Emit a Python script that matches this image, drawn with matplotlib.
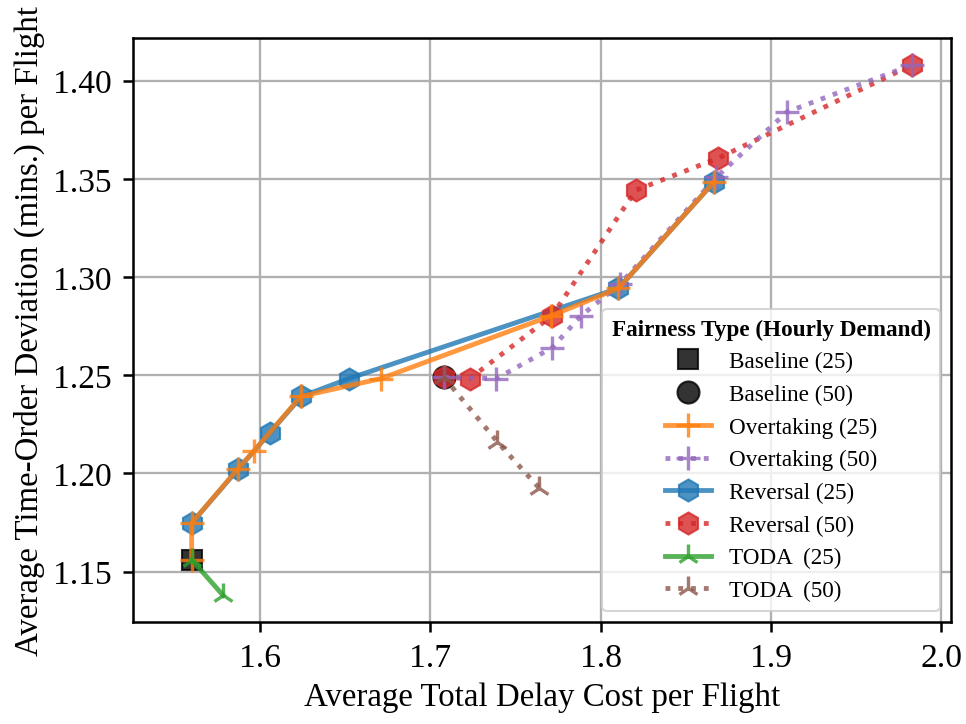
import matplotlib
matplotlib.use('Agg')
import matplotlib.pyplot as plt

plt.rcParams['font.family'] = ['Liberation Serif', 'DejaVu Serif']
plt.rcParams['mathtext.fontset'] = 'stix'

# baseline points
base25_x = [1.560]
base25_y = [1.156]
base50_x = [1.708]
base50_y = [1.249]

# overtaking
over25_x = [1.560, 1.560, 1.587, 1.5965, 1.624, 1.671, 1.771, 1.8105, 1.8667]
over25_y = [1.156, 1.1747, 1.2022, 1.2113, 1.2392, 1.2483, 1.2803, 1.2943, 1.3486]
over50_x = [1.708, 1.7388, 1.7715, 1.7885, 1.8115, 1.868, 1.9095, 1.983]
over50_y = [1.249, 1.2483, 1.264, 1.2803, 1.2965, 1.351, 1.3842, 1.4082]

# reversal
rev25_x = [1.560, 1.5873, 1.6058, 1.6244, 1.6522, 1.8105, 1.8667]
rev25_y = [1.1747, 1.2022, 1.2206, 1.2392, 1.2483, 1.2943, 1.3486]
rev50_x = [1.708, 1.7232, 1.7715, 1.8207, 1.869, 1.983]
rev50_y = [1.249, 1.2483, 1.2803, 1.3443, 1.3606, 1.4082]

# TODA
toda25_x = [1.560, 1.5785]
toda25_y = [1.156, 1.1378]
toda50_x = [1.708, 1.7394, 1.7637]
toda50_y = [1.249, 1.2161, 1.1928]

fig, ax = plt.subplots(figsize=(6.4, 4.8), dpi=151)

ax.plot(base25_x, base25_y, 's', color='black', alpha=0.8, ms=10, zorder=2,
        label='Baseline (25)')
ax.plot(base50_x, base50_y, 'o', color='black', alpha=0.8, ms=10.5, zorder=2,
        label='Baseline (50)')
ax.plot(over25_x, over25_y, '-+', color='tab:orange', alpha=0.8, lw=2.3, ms=11, mew=1.6,
        zorder=5, label='Overtaking (25)')
ax.plot(over50_x, over50_y, ':+', color='tab:purple', alpha=0.8, lw=2.3, ms=11, mew=1.6,
        zorder=4, label='Overtaking (50)')
ax.plot(rev25_x, rev25_y, '-h', color='tab:blue', alpha=0.8, lw=2.3, ms=10.5,
        zorder=3, label='Reversal (25)')
ax.plot(rev50_x, rev50_y, ':h', color='tab:red', alpha=0.8, lw=2.3, ms=10.5,
        zorder=3, label='Reversal (50)')
ax.plot(toda25_x, toda25_y, '-2', color='tab:green', alpha=0.8, lw=2.3, ms=11, mew=1.6,
        zorder=6, label='TODA  (25)')
ax.plot(toda50_x, toda50_y, ':2', color='tab:brown', alpha=0.8, lw=2.3, ms=11, mew=1.6,
        zorder=6, label='TODA  (50)')

ax.set_xlim(1.5255, 2.0059)
ax.set_ylim(1.1242, 1.4216)
ax.set_xticks([1.6, 1.7, 1.8, 1.9, 2.0])
ax.set_yticks([1.15, 1.20, 1.25, 1.30, 1.35, 1.40])
ax.set_yticklabels(['1.15', '1.20', '1.25', '1.30', '1.35', '1.40'])
ax.grid(True, color='#b0b0b0', lw=1.1)
ax.set_axisbelow(True)
ax.tick_params(labelsize=16, length=5, width=1.2, pad=5)
for s in ax.spines.values():
    s.set_linewidth(1.2)

ax.set_xlabel('Average Total Delay Cost per Flight', fontsize=15.7)
ax.set_ylabel('Average Time-Order Deviation (mins.) per Flight', fontsize=15.7)

leg = ax.legend(loc='lower right', title='Fairness Type (Hourly Demand)', fontsize=11,
                title_fontproperties={'weight': 'bold', 'size': 11})
leg.set_zorder(10)

fig.subplots_adjust(left=0.1375, right=0.9845, top=0.9458, bottom=0.1405)
fig.savefig('out.png', dpi=151)
